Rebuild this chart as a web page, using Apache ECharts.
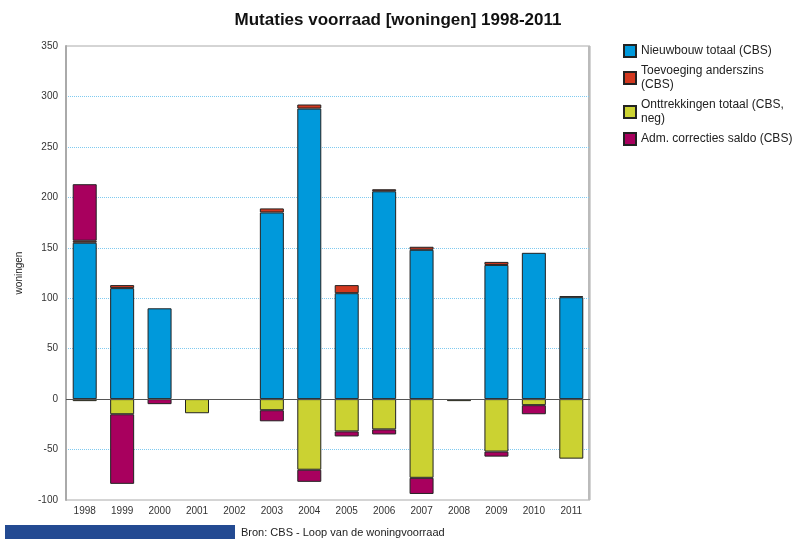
<!DOCTYPE html>
<html>
<head>
<meta charset="utf-8">
<script src="https://cdn.jsdelivr.net/npm/echarts@6/dist/echarts.min.js"></script>
<style>
  html, body { margin: 0; padding: 0; background: #fff; }
  #chart { width: 798px; height: 539px; }
</style>
</head>
<body>
<div id="chart"></div>
<script>
// jaren en reeksen (aantal woningen x1000)
const years = ['1998','1999','2000','2001','2002','2003','2004','2005','2006','2007','2008','2009','2010','2011']
const nieuwbouw = [155, 110, 90, null, null, 185, 288, 105, 206, 148, null, 133, 145, 101]
const toevoeging = [2, 3, null, null, null, 4, 4, 8, 2, 3, null, 3, null, 1]
const onttrekkingen = [-2, -15, null, -14, null, -11, -70, -32, -30, -78, -2, -52, -6, -59]
const admCorrecties = [56, -69, -5, null, null, -11, -12, -5, -5, -16, null, -5, -9, null]
const yTicks = [-100, -50, 0, 50, 100, 150, 200, 250, 300, 350]

const font = 'Liberation Sans, Arial, sans-serif'
const chart = echarts.init(document.getElementById('chart'))

function bar(name, data, color) {
  return {
    name: name,
    type: 'bar',
    stack: 'mutaties',
    barWidth: 24,
    data: data,
    itemStyle: { color: color, borderColor: '#222', borderWidth: 1 }
  }
}

const series = [
  bar('Nieuwbouw totaal (CBS)', nieuwbouw, '#0099db'),
  bar('Toevoeging anderszins\n(CBS)', toevoeging, '#d2381f'),
  bar('Onttrekkingen totaal (CBS,\nneg)', onttrekkingen, '#cbd232'),
  bar('Adm. correcties saldo (CBS)', admCorrecties, '#a8005e')
]
// nullijn
series[0].markLine = {
  silent: true,
  symbol: 'none',
  label: { show: false },
  lineStyle: { color: '#555', width: 1, type: 'solid' },
  data: [{ yAxis: 0 }]
}

chart.setOption({
  animation: false,
  textStyle: { fontFamily: font },
  title: {
    text: 'Mutaties voorraad [woningen] 1998-2011',
    left: 393, top: 7, textAlign: 'center',
    textStyle: { fontSize: 17, fontWeight: 'bold', color: '#111', fontFamily: font }
  },
  legend: {
    orient: 'vertical',
    left: 618, top: 39,
    icon: 'rect',
    itemWidth: 12, itemHeight: 12,
    itemGap: 6,
    textStyle: { fontSize: 12, color: '#222', lineHeight: 14, fontFamily: font },
    data: series.map(s => s.name)
  },
  grid: {
    left: 66, right: 208, top: 46, bottom: 39,
    show: true, borderColor: '#aaa', borderWidth: 1
  },
  xAxis: {
    type: 'category',
    data: years,
    axisLine: { show: false },
    axisTick: { show: false },
    axisLabel: { fontSize: 10, color: '#333', margin: 6 }
  },
  yAxis: {
    type: 'value',
    min: yTicks[0], max: yTicks[yTicks.length - 1], interval: 50,
    name: 'woningen',
    nameLocation: 'middle',
    nameGap: 42,
    nameTextStyle: { fontSize: 10, color: '#222' },
    axisLine: { show: true, lineStyle: { color: '#aaa', width: 2 } },
    axisTick: { show: false },
    axisLabel: { fontSize: 10, color: '#333', margin: 8 },
    splitLine: { show: true, showMinLine: false, showMaxLine: false, lineStyle: { color: '#7fcaf0', type: 'dotted', width: 1 } }
  },
  graphic: [
    { type: 'rect', left: 5, top: 525, shape: { width: 230, height: 14 }, style: { fill: '#234a92' } },
    { type: 'text', left: 241, top: 527, style: { text: 'Bron: CBS - Loop van de woningvoorraad', fontSize: 11, fill: '#222', fontFamily: font } },
    { type: 'line', shape: { x1: 589, y1: 46, x2: 589, y2: 500 }, style: { stroke: '#bbb', lineWidth: 2 } }
  ],
  series: series
})
</script>
</body>
</html>
